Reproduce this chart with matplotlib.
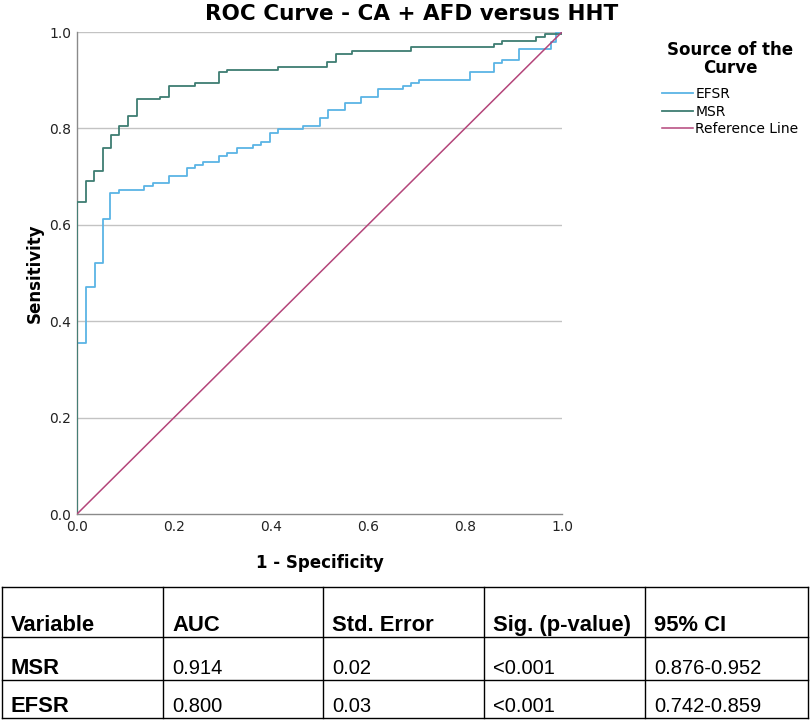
import matplotlib
matplotlib.use("Agg")
import matplotlib.pyplot as plt
from matplotlib.lines import Line2D

# ---- data ----
msr_fpr = [0.0, 0.0, 0.0185, 0.036, 0.053, 0.070, 0.087, 0.106, 0.123, 0.172, 0.190,
           0.243, 0.293, 0.310, 0.414, 0.516, 0.533, 0.567, 0.689, 0.860, 0.877,
           0.946, 0.964, 1.0]
msr_tpr = [0.0, 0.648, 0.690, 0.711, 0.759, 0.786, 0.805, 0.826, 0.860, 0.866, 0.888,
           0.895, 0.916, 0.921, 0.928, 0.937, 0.955, 0.960, 0.968, 0.975, 0.982,
           0.989, 0.996, 1.0]
efsr_fpr = [0.0, 0.0, 0.0185, 0.037, 0.053, 0.069, 0.087, 0.138, 0.156, 0.190, 0.226,
            0.243, 0.260, 0.293, 0.310, 0.329, 0.363, 0.380, 0.397, 0.414, 0.466,
            0.500, 0.517, 0.552, 0.586, 0.620, 0.672, 0.689, 0.706, 0.810, 0.860,
            0.877, 0.912, 0.978, 0.988, 1.0]
efsr_tpr = [0.0, 0.354, 0.470, 0.520, 0.613, 0.667, 0.673, 0.680, 0.687, 0.701, 0.717,
            0.724, 0.731, 0.743, 0.750, 0.759, 0.766, 0.771, 0.791, 0.798, 0.805,
            0.821, 0.839, 0.852, 0.866, 0.881, 0.888, 0.894, 0.900, 0.916, 0.935,
            0.942, 0.965, 0.980, 1.0, 1.0]
ref_x = [0.0, 1.0]
ref_y = [0.0, 1.0]

ticks = [0.0, 0.2, 0.4, 0.6, 0.8, 1.0]
tick_labels = ["0.0", "0.2", "0.4", "0.6", "0.8", "1.0"]

table_header = ["Variable", "AUC", "Std. Error", "Sig. (p-value)", "95% CI"]
table_rows = [
    ["MSR", "0.914", "0.02", "<0.001", "0.876-0.952"],
    ["EFSR", "0.800", "0.03", "<0.001", "0.742-0.859"],
]

# ---- styling ----
C_EFSR = "#5BB4E5"
C_MSR = "#3E7D72"
C_REF = "#B4457A"
W, H = 810, 722

plt.rcParams["font.family"] = ["DejaVu Sans"]
fig = plt.figure(figsize=(W / 100, H / 100), dpi=100)

def fx(px):
    return px / W

def fy(py):
    return 1 - py / H

ax = fig.add_axes([fx(77), fy(514), fx(562) - fx(77), fy(32) - fy(514)])
ax.set_xlim(0, 1)
ax.set_ylim(0, 1)

for t in ticks[1:]:
    ax.axhline(t, color="#C3C3C3", lw=1.0, zorder=0)

ax.plot(efsr_fpr, efsr_tpr, drawstyle="steps-post", color=C_EFSR, lw=1.3, label="EFSR", zorder=2)
ax.plot(msr_fpr, msr_tpr, drawstyle="steps-post", color=C_MSR, lw=1.3, label="MSR", zorder=3)
ax.plot(ref_x, ref_y, color=C_REF, lw=1.1, label="Reference Line", zorder=4)

ax.set_xticks(ticks)
ax.set_xticklabels(tick_labels)
ax.set_yticks(ticks)
ax.set_yticklabels(tick_labels)
ax.tick_params(axis="both", length=0, labelsize=10, labelcolor="#222222", pad=4)
for s in ["top", "right"]:
    ax.spines[s].set_visible(False)
for s in ["left", "bottom"]:
    ax.spines[s].set_color("#8A8A8A")
    ax.spines[s].set_linewidth(1.0)

ax.set_xlabel("1 - Specificity", fontsize=12, fontweight="bold", labelpad=15)
ax.set_ylabel("Sensitivity", fontsize=12, fontweight="bold", labelpad=4)

fig.text(fx(412), fy(14), "ROC Curve - CA + AFD versus HHT", ha="center", va="center",
         fontsize=15.5, fontweight="bold")

leg = ax.legend(loc="upper left", bbox_to_anchor=(fx(655), fy(34)), bbox_transform=fig.transFigure,
                title="Source of the\nCurve", frameon=False, fontsize=10,
                title_fontproperties={"weight": "bold", "size": 12},
                handlelength=2.2, handletextpad=0.2, labelspacing=0.25, borderpad=0)
leg._legend_box.align = "center"
leg._legend_box.sep = 7.5
leg.get_title().set_multialignment("center")
leg.get_title().set_linespacing(1.0)

# ---- table ----
tax = fig.add_axes([0, 0, 1, 1])
tax.set_xlim(0, W)
tax.set_ylim(H, 0)
tax.axis("off")
col_edges = [2, 163, 323, 484, 645, 808]
row_edges = [587, 637, 680, 718]
for xe in col_edges:
    tax.add_line(Line2D([xe, xe], [row_edges[0], row_edges[-1]], color="black", lw=1.0))
for ye in row_edges:
    tax.add_line(Line2D([col_edges[0], col_edges[-1]], [ye, ye], color="black", lw=1.0))

all_rows = [table_header] + table_rows
for r, row in enumerate(all_rows):
    base = row_edges[r + 1] - 6
    for c, txt in enumerate(row):
        bold = (r == 0) or (c == 0)
        tax.text(col_edges[c] + 9, base, txt, ha="left", va="baseline",
                 fontsize=15.8 if bold else 14.5, fontweight="bold" if bold else "normal",
                 family="Liberation Sans")

fig.savefig("out.png", dpi=100)
